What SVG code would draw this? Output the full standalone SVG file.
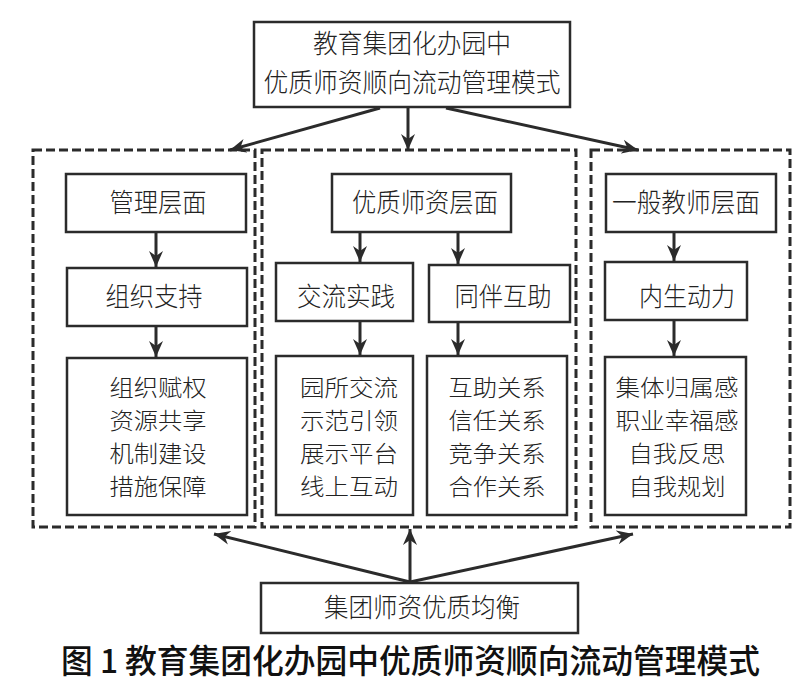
<svg xmlns="http://www.w3.org/2000/svg" width="800" height="696" viewBox="0 0 800 696">
<style>
.box{fill:#fff;stroke:#2b2b2b;stroke-width:2.5}
.dash{fill:none;stroke:#2b2b2b;stroke-width:3;stroke-dasharray:9 4}
.t{font-family:"Noto Sans CJK SC","Noto Sans CJK JP",sans-serif;font-weight:300;font-size:26px;fill:#222;text-anchor:middle}
.l{font-size:22.8px}
.cap{font-family:"Noto Sans CJK SC","Noto Sans CJK JP",sans-serif;font-weight:500;font-size:33px;fill:#111}
.con{stroke:#2b2b2b;stroke-width:3;fill:none;marker-end:url(#ah)}
</style>
<defs>
<marker id="ah" markerUnits="userSpaceOnUse" markerWidth="18" markerHeight="16" refX="16" refY="8" orient="auto">
<path d="M0,1 L16,8 L0,15 L5,8 z" fill="#2b2b2b"/>
</marker>
</defs>
<rect width="800" height="696" fill="#fff"/>

<g id="top">
<rect class="box" x="254" y="22" width="316" height="85"/>
<text class="t" x="412" y="53" textLength="198" lengthAdjust="spacingAndGlyphs">教育集团化办园中</text>
<text class="t" x="412" y="92" textLength="297" lengthAdjust="spacingAndGlyphs">优质师资顺向流动管理模式</text>
</g>

<g id="group-left">
<rect class="dash" x="33" y="150" width="222" height="377"/>
</g>
<g id="group-mid">
<rect class="dash" x="262" y="150" width="314" height="377"/>
</g>
<g id="group-right">
<rect class="dash" x="591" y="150" width="199" height="377"/>
</g>

<g id="mgmt">
<rect class="box" x="66" y="174" width="180" height="58"/>
<text class="t" x="158" y="212" textLength="97" lengthAdjust="spacingAndGlyphs">管理层面</text>
</g>
<g id="org">
<rect class="box" x="67" y="268" width="180" height="58"/>
<text class="t" x="154" y="306" textLength="97" lengthAdjust="spacingAndGlyphs">组织支持</text>
</g>
<g id="org-items">
<rect class="box" x="67" y="358" width="180" height="157"/>
<text class="t l" x="158" y="396" textLength="97" lengthAdjust="spacingAndGlyphs">组织赋权</text>
<text class="t l" x="158" y="429" textLength="97" lengthAdjust="spacingAndGlyphs">资源共享</text>
<text class="t l" x="158" y="462" textLength="97" lengthAdjust="spacingAndGlyphs">机制建设</text>
<text class="t l" x="158" y="495" textLength="97" lengthAdjust="spacingAndGlyphs">措施保障</text>
</g>

<g id="quality">
<rect class="box" x="332" y="174" width="179" height="58"/>
<text class="t" x="425" y="212" textLength="146" lengthAdjust="spacingAndGlyphs">优质师资层面</text>
</g>
<g id="exchange">
<rect class="box" x="276" y="263" width="137" height="58"/>
<text class="t" x="346" y="306" textLength="98" lengthAdjust="spacingAndGlyphs">交流实践</text>
</g>
<g id="exchange-items">
<rect class="box" x="276" y="356" width="137" height="159"/>
<text class="t l" x="349" y="396" textLength="98" lengthAdjust="spacingAndGlyphs">园所交流</text>
<text class="t l" x="349" y="429" textLength="98" lengthAdjust="spacingAndGlyphs">示范引领</text>
<text class="t l" x="349" y="462" textLength="98" lengthAdjust="spacingAndGlyphs">展示平台</text>
<text class="t l" x="349" y="495" textLength="98" lengthAdjust="spacingAndGlyphs">线上互动</text>
</g>
<g id="peer">
<rect class="box" x="429" y="265" width="141" height="57"/>
<text class="t" x="503" y="306" textLength="97" lengthAdjust="spacingAndGlyphs">同伴互助</text>
</g>
<g id="peer-items">
<rect class="box" x="427" y="356" width="140" height="159"/>
<text class="t l" x="497" y="396" textLength="97" lengthAdjust="spacingAndGlyphs">互助关系</text>
<text class="t l" x="497" y="429" textLength="97" lengthAdjust="spacingAndGlyphs">信任关系</text>
<text class="t l" x="497" y="462" textLength="97" lengthAdjust="spacingAndGlyphs">竞争关系</text>
<text class="t l" x="497" y="495" textLength="97" lengthAdjust="spacingAndGlyphs">合作关系</text>
</g>

<g id="general">
<rect class="box" x="606" y="174" width="170" height="58"/>
<text class="t" x="686" y="212" textLength="148" lengthAdjust="spacingAndGlyphs">一般教师层面</text>
</g>
<g id="motive">
<rect class="box" x="605" y="262" width="142" height="58"/>
<text class="t" x="687" y="306" textLength="96" lengthAdjust="spacingAndGlyphs">内生动力</text>
</g>
<g id="motive-items">
<rect class="box" x="605" y="357" width="141" height="158"/>
<text class="t l" x="677" y="396" textLength="123" lengthAdjust="spacingAndGlyphs">集体归属感</text>
<text class="t l" x="677" y="429" textLength="123" lengthAdjust="spacingAndGlyphs">职业幸福感</text>
<text class="t l" x="677" y="462" textLength="97" lengthAdjust="spacingAndGlyphs">自我反思</text>
<text class="t l" x="677" y="495" textLength="97" lengthAdjust="spacingAndGlyphs">自我规划</text>
</g>

<g id="balance">
<rect class="box" x="261" y="583" width="317" height="50"/>
<text class="t" x="422" y="617" textLength="196" lengthAdjust="spacingAndGlyphs">集团师资优质均衡</text>
</g>

<g id="connectors">
<line class="con" x1="380" y1="108" x2="230" y2="150"/>
<line class="con" x1="408" y1="108" x2="408" y2="150"/>
<line class="con" x1="446" y1="108" x2="638" y2="150"/>
<line class="con" x1="156" y1="233" x2="156" y2="267"/>
<line class="con" x1="156" y1="327" x2="156" y2="357"/>
<line class="con" x1="360" y1="233" x2="360" y2="262"/>
<line class="con" x1="360" y1="322" x2="360" y2="355"/>
<line class="con" x1="458" y1="233" x2="458" y2="264"/>
<line class="con" x1="458" y1="323" x2="458" y2="355"/>
<line class="con" x1="674" y1="233" x2="674" y2="261"/>
<line class="con" x1="674" y1="321" x2="674" y2="356"/>
<line class="con" x1="410" y1="582" x2="214" y2="534"/>
<line class="con" x1="410" y1="582" x2="410" y2="529"/>
<line class="con" x1="410" y1="582" x2="633" y2="534"/>
</g>

<text class="cap" x="61" y="673" textLength="699" lengthAdjust="spacingAndGlyphs">图 1 教育集团化办园中优质师资顺向流动管理模式</text>
</svg>
